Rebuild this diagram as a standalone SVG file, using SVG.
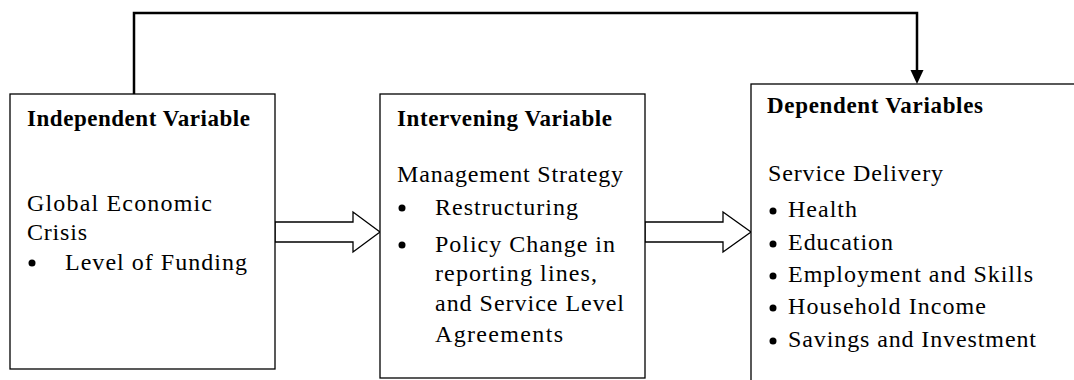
<svg xmlns="http://www.w3.org/2000/svg" width="1074" height="380" viewBox="0 0 1074 380">
<style>
.box{fill:#fff;stroke:#000;stroke-width:1.3}
.t{font-family:"Liberation Serif","Times New Roman",serif;font-size:24px;fill:#000}
.b{font-weight:bold;font-size:23px}
.blk{fill:#fff;stroke:#000;stroke-width:1.3;stroke-linejoin:miter}
.conn{fill:none;stroke:#000;stroke-width:2.5}
</style>
<rect width="1074" height="380" fill="#fff"/>
<g id="connectors">
<path class="conn" d="M134,94 V13 H917 V72"/>
<polygon points="910.5,70 923.5,70 917,84" fill="#000"/>
<polygon class="blk" points="275,222 353,222 353,212 380,232 353,252 353,242 275,242"/>
<polygon class="blk" points="645,222 723,222 723,212 751,232 723,252 723,242 645,242"/>
</g>
<g id="independent">
<rect class="box" x="10" y="94" width="265" height="275"/>
<text class="t b" x="27" y="126" textLength="223" lengthAdjust="spacing">Independent Variable</text>
<text class="t" x="27" y="211" textLength="185" lengthAdjust="spacing">Global Economic</text>
<text class="t" x="27" y="240" textLength="60" lengthAdjust="spacing">Crisis</text>
<circle cx="32" cy="263" r="3.5"/>
<text class="t" x="65" y="270" textLength="182" lengthAdjust="spacing">Level of Funding</text>
</g>
<g id="intervening">
<rect class="box" x="380" y="94" width="265" height="284"/>
<text class="t b" x="397" y="126" textLength="215" lengthAdjust="spacing">Intervening Variable</text>
<text class="t" x="397" y="182" textLength="226" lengthAdjust="spacing">Management Strategy</text>
<circle cx="402" cy="208" r="3.5"/>
<text class="t" x="435" y="215" textLength="143" lengthAdjust="spacing">Restructuring</text>
<circle cx="402" cy="245" r="3.5"/>
<text class="t" x="435" y="252" textLength="180" lengthAdjust="spacing">Policy Change in</text>
<text class="t" x="435" y="281" textLength="162" lengthAdjust="spacing">reporting lines,</text>
<text class="t" x="435" y="311" textLength="189" lengthAdjust="spacing">and Service Level</text>
<text class="t" x="435" y="342" textLength="128" lengthAdjust="spacing">Agreements</text>
</g>
<g id="dependent">
<rect class="box" x="751" y="84" width="400" height="400"/>
<text class="t b" x="767" y="113" textLength="216" lengthAdjust="spacing">Dependent Variables</text>
<text class="t" x="768" y="181" textLength="175" lengthAdjust="spacing">Service Delivery</text>
<circle cx="773" cy="211" r="3.5"/>
<text class="t" x="788" y="217" textLength="69" lengthAdjust="spacing">Health</text>
<circle cx="773" cy="244" r="3.5"/>
<text class="t" x="788" y="250" textLength="105" lengthAdjust="spacing">Education</text>
<circle cx="773" cy="276" r="3.5"/>
<text class="t" x="788" y="282" textLength="245" lengthAdjust="spacing">Employment and Skills</text>
<circle cx="773" cy="308" r="3.5"/>
<text class="t" x="788" y="314" textLength="198" lengthAdjust="spacing">Household Income</text>
<circle cx="773" cy="341" r="3.5"/>
<text class="t" x="788" y="347" textLength="248" lengthAdjust="spacing">Savings and Investment</text>
</g>
</svg>
